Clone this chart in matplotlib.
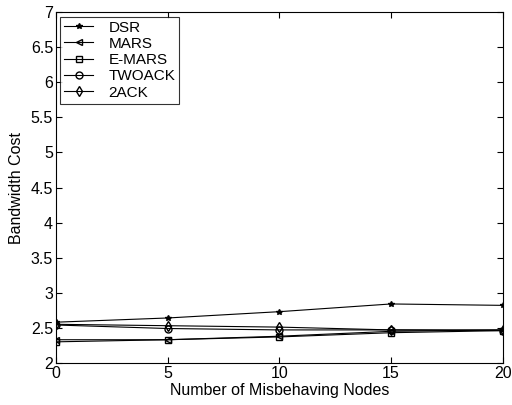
import matplotlib
matplotlib.use("Agg")
import matplotlib.pyplot as plt

plt.rcParams['font.family'] = ['Liberation Sans', 'DejaVu Sans']

x = [0, 5, 10, 15, 20]
dsr = [2.58, 2.64, 2.73, 2.84, 2.82]
mars = [2.33, 2.33, 2.38, 2.45, 2.47]
emars = [2.30, 2.33, 2.37, 2.43, 2.46]
twoack = [2.54, 2.49, 2.47, 2.47, 2.46]
ack2 = [2.55, 2.53, 2.51, 2.47, 2.47]

fig = plt.figure(figsize=(5.12, 4.05), dpi=100)
ax = fig.add_axes([0.109, 0.104, 0.873, 0.866])

lw = 0.8
ax.plot(x, dsr, color='black', lw=lw, marker='*', ms=4, label='DSR')
ax.plot(x, mars, color='black', lw=lw, marker='<', ms=5, mfc='none', label='MARS')
ax.plot(x, emars, color='black', lw=lw, marker='s', ms=5, mfc='none', label='E-MARS')
ax.plot(x, twoack, color='black', lw=lw, marker='o', ms=5, mfc='none', label='TWOACK')
ax.plot(x, ack2, color='black', lw=lw, marker='d', ms=5, mfc='none', label='2ACK')

ax.set_xlim(0, 20)
ax.set_ylim(2, 7)
ax.set_xticks([0, 5, 10, 15, 20])
ax.set_yticks([2, 2.5, 3, 3.5, 4, 4.5, 5, 5.5, 6, 6.5, 7])
ax.set_yticklabels(['2', '2.5', '3', '3.5', '4', '4.5', '5', '5.5', '6', '6.5', '7'])
ax.tick_params(direction='in', top=True, right=True, labelsize=11.5, length=4, width=0.8, pad=2)
for s in ax.spines.values():
    s.set_linewidth(0.8)
ax.set_xlabel('Number of Misbehaving Nodes', fontsize=11.5, labelpad=2)
ax.set_ylabel('Bandwidth Cost', fontsize=11.5, labelpad=5)

leg = ax.legend(loc='upper left', fontsize=11, frameon=True, fancybox=False,
                edgecolor='black', borderaxespad=0.3, handlelength=1.9,
                labelspacing=0.15, borderpad=0.25, handletextpad=1.0)
leg.get_frame().set_linewidth(0.8)

fig.savefig('out.png', dpi=100)
